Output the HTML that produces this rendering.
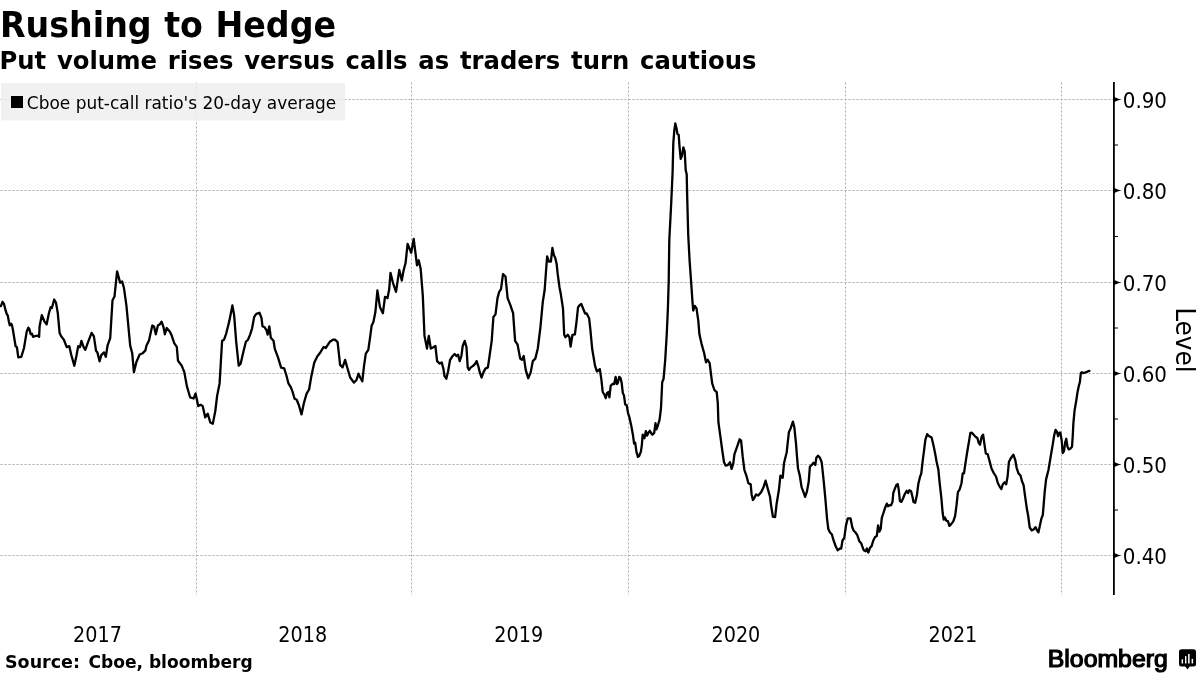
<!DOCTYPE html>
<html><head><meta charset="utf-8"><style>
html,body{margin:0;padding:0;background:#fff;width:1200px;height:675px;overflow:hidden}
svg{display:block;will-change:transform}
.t{font-family:"DejaVu Sans",sans-serif;font-weight:bold;fill:#000}
.c{font-family:"DejaVu Sans Condensed","DejaVu Sans",sans-serif;fill:#000}
.b{font-family:"Liberation Sans",sans-serif;font-weight:bold;fill:#000}
</style></head><body>
<svg width="1200" height="675" viewBox="0 0 1200 675">
<g stroke="#aaa" stroke-width="1" stroke-dasharray="2,2" fill="none"><line x1="0.5" y1="99.5" x2="1113" y2="99.5"/><line x1="0.5" y1="190.5" x2="1113" y2="190.5"/><line x1="0.5" y1="282.5" x2="1113" y2="282.5"/><line x1="0.5" y1="373.5" x2="1113" y2="373.5"/><line x1="0.5" y1="464.5" x2="1113" y2="464.5"/><line x1="0.5" y1="555.5" x2="1113" y2="555.5"/><line x1="196.5" y1="82.5" x2="196.5" y2="595"/><line x1="411.5" y1="82.5" x2="411.5" y2="595"/><line x1="628.5" y1="82.5" x2="628.5" y2="595"/><line x1="845.5" y1="82.5" x2="845.5" y2="595"/><line x1="1061.5" y1="82.5" x2="1061.5" y2="595"/></g>
<rect x="1" y="83" width="344" height="37.5" rx="1" fill="#eeeeee" fill-opacity="0.85"/>
<rect x="11" y="96" width="12" height="12" fill="#000"/>
<text class="c" x="26.8" y="108.8" font-size="18.4" textLength="309.5" lengthAdjust="spacingAndGlyphs">Cboe put-call ratio's 20-day average</text>
<polyline points="0.0,306.2 0.9,306.2 2.5,301.8 4.0,304.0 5.3,309.3 6.7,313.8 7.8,315.6 8.9,321.8 9.8,325.3 11.1,323.6 12.0,325.3 12.9,329.8 14.2,337.8 15.6,346.2 16.9,347.1 18.3,357.4 21.3,356.9 24.0,348.0 26.7,331.6 28.3,327.6 29.3,328.9 30.7,334.2 32.0,333.8 33.1,336.9 34.2,336.4 35.6,336.0 37.3,335.6 39.1,336.9 39.6,326.2 41.8,315.1 44.4,321.3 46.6,324.4 48.9,313.3 50.7,307.1 51.9,308.0 54.2,299.5 56.0,302.7 57.8,313.3 59.6,332.9 61.3,336.4 64.0,340.0 66.7,347.1 69.3,346.2 71.1,354.2 74.3,365.8 76.4,356.0 78.2,346.2 80.0,347.1 81.4,340.9 83.6,347.1 85.3,349.8 87.5,343.6 91.6,332.9 93.9,336.4 96.0,350.7 97.4,352.4 99.6,361.3 101.3,355.1 104.0,352.4 105.8,356.9 107.6,345.3 110.2,338.2 112.5,300.3 114.5,296.5 117.1,271.3 118.8,277.6 120.1,282.7 122.1,281.4 123.9,287.7 126.4,305.3 130.2,345.6 132.2,353.2 133.9,372.1 136.4,362.0 139.7,354.5 142.7,353.2 145.3,350.7 146.5,345.6 149.0,340.6 152.3,325.5 154.1,326.8 155.8,334.3 157.9,325.5 159.9,324.2 161.6,321.7 163.4,326.8 164.9,334.3 166.7,328.0 169.9,331.8 171.7,335.6 174.2,343.1 176.8,346.9 178.0,360.8 181.8,365.8 184.3,372.1 186.8,385.9 190.1,397.3 193.6,398.5 195.6,393.5 198.2,406.1 200.7,404.8 202.7,406.1 205.2,417.4 207.7,413.7 210.3,422.5 212.8,423.7 215.3,411.1 217.1,396.0 219.6,383.4 222.1,340.8 224.1,339.7 226.2,333.5 229.3,321.1 232.4,305.5 234.1,314.9 236.2,341.8 238.7,365.6 240.7,363.6 243.8,350.1 245.9,341.8 248.0,339.7 250.1,334.6 252.1,328.3 254.2,316.9 256.3,313.8 259.4,312.8 261.5,318.0 262.5,326.3 264.6,327.3 266.6,330.4 267.7,334.6 269.3,326.3 270.8,337.7 273.5,340.8 274.9,349.1 278.0,357.4 281.1,367.7 284.2,368.3 286.3,375.0 288.4,383.3 290.9,387.4 292.5,391.6 294.6,398.8 296.7,399.8 298.8,405.0 301.5,414.4 303.9,403.0 306.6,393.6 309.1,389.5 311.2,377.0 314.3,362.5 317.4,356.3 320.5,352.2 323.6,347.0 325.7,348.0 327.8,344.9 329.8,341.8 333.0,339.7 335.0,339.7 337.6,342.2 340.1,364.9 342.6,367.4 345.1,359.9 347.6,368.7 350.2,377.5 353.9,382.6 356.5,380.0 358.5,373.7 360.2,377.5 362.3,381.3 364.0,366.2 365.8,353.6 368.3,349.8 370.3,335.9 371.6,325.8 373.4,322.0 375.4,312.0 377.4,290.5 379.9,306.9 382.9,313.2 385.0,296.8 387.5,298.1 389.2,289.3 390.5,272.9 393.0,283.0 396.0,291.8 399.3,269.9 401.8,280.5 403.6,270.4 405.6,262.8 407.6,243.9 411.2,252.7 413.7,238.9 417.0,265.3 418.7,260.3 420.7,269.1 422.8,295.6 424.5,335.9 427.0,348.5 428.8,335.9 430.8,348.5 433.4,347.3 435.4,346.0 437.1,361.1 439.7,363.6 441.7,362.4 443.4,368.7 444.5,376.2 446.3,378.7 448.1,371.2 450.1,359.8 452.6,356.0 454.6,354.0 456.4,356.0 458.1,354.8 459.7,361.1 461.4,356.0 462.7,346.0 464.7,340.9 466.5,347.2 467.7,367.4 469.0,369.9 470.8,367.4 472.8,366.1 475.3,363.6 476.6,361.1 478.3,366.1 479.8,372.4 481.6,377.5 483.4,372.4 485.4,368.6 487.9,367.4 489.9,353.5 491.7,340.9 493.4,317.0 495.5,314.4 497.5,298.1 499.2,291.8 501.0,289.2 503.0,274.1 505.5,276.6 507.6,298.1 510.1,304.4 513.1,313.2 515.1,340.9 517.6,344.7 520.2,358.6 521.9,359.8 523.7,356.0 525.7,369.9 528.2,378.2 530.7,372.4 532.8,361.1 535.3,358.6 537.8,348.5 540.3,328.3 542.8,301.8 544.6,290.5 547.1,256.5 548.9,261.5 550.9,261.5 552.4,248.0 553.9,255.3 555.2,257.8 556.6,263.7 557.6,273.2 559.5,287.4 560.7,293.3 563.0,308.7 564.2,334.8 565.4,337.2 567.8,334.8 569.4,337.2 570.6,346.6 572.5,334.8 574.9,334.3 576.5,321.8 578.0,307.5 579.6,305.2 581.3,304.0 583.2,308.7 585.1,313.5 586.7,313.5 589.1,318.2 590.3,328.9 592.2,349.0 595.0,365.6 596.9,371.5 599.8,369.1 601.4,379.6 602.7,392.0 604.4,394.7 605.7,398.2 607.1,392.9 608.5,392.0 609.4,397.3 610.7,385.8 612.4,384.0 614.2,384.0 615.6,376.9 616.9,384.0 617.8,383.1 619.2,376.9 620.4,377.8 621.7,383.1 622.8,392.9 624.0,395.6 625.2,404.4 626.7,405.3 628.1,413.3 629.3,416.9 631.1,424.9 632.9,434.7 634.1,443.6 635.2,442.7 636.4,451.6 637.9,456.9 639.1,456.0 640.9,451.6 641.8,445.3 642.7,434.7 644.4,438.2 645.9,431.1 647.1,435.6 648.4,432.9 649.8,430.8 651.2,433.2 652.4,434.7 654.2,432.9 655.5,423.1 656.5,429.3 657.8,425.8 659.6,419.6 661.0,408.0 662.2,382.2 663.6,378.7 665.2,360.2 666.8,333.3 667.9,308.4 668.7,281.5 669.3,240.0 671.2,203.4 672.6,172.2 673.3,143.2 674.3,130.7 675.3,123.5 676.6,128.7 677.4,133.9 678.7,134.9 679.5,146.3 680.7,158.8 682.0,155.6 683.4,147.3 684.7,151.5 685.7,170.2 686.7,174.3 687.2,197.1 688.2,234.5 689.6,260.7 691.1,281.5 692.5,302.2 693.2,310.5 694.8,305.9 696.5,308.4 698.3,320.8 699.4,334.3 701.5,343.6 704.1,353.0 706.0,362.3 707.7,359.8 709.7,363.3 710.8,372.6 712.2,383.3 714.4,390.0 716.7,392.2 717.8,403.3 718.4,422.2 720.4,436.7 722.2,450.0 724.0,462.2 725.6,465.6 727.8,465.1 730.0,462.2 731.6,468.9 733.3,463.3 734.4,454.4 736.7,447.8 739.6,439.3 741.1,440.7 742.7,456.7 744.4,470.0 746.7,476.7 748.4,483.3 750.7,484.4 751.6,494.4 752.9,500.0 754.4,497.8 756.0,494.4 758.2,495.6 761.1,492.2 763.3,487.8 765.6,480.7 767.8,488.9 770.0,496.7 771.1,505.6 772.9,516.7 775.1,517.1 776.7,503.3 778.9,490.0 780.4,475.6 782.7,477.8 784.0,463.3 786.7,452.2 788.9,432.2 790.7,428.2 792.9,421.6 794.4,427.8 796.0,443.3 796.8,454.2 798.0,468.5 799.8,475.6 801.6,487.2 803.3,491.6 805.1,496.9 806.9,491.6 808.7,481.8 809.9,466.7 811.7,464.9 813.5,462.8 815.3,464.9 816.3,457.8 818.1,455.7 819.9,457.8 821.7,462.2 823.5,479.1 825.2,496.9 827.0,518.3 828.3,529.0 830.0,532.5 831.8,534.3 833.6,540.5 835.9,546.8 837.7,550.3 839.8,548.5 841.2,548.5 842.5,540.5 844.3,537.9 846.0,525.4 847.8,518.3 850.5,518.3 852.3,527.2 853.7,530.7 855.5,532.5 857.3,535.2 859.4,541.4 861.2,543.2 862.1,545.9 863.8,550.3 865.6,551.2 866.9,548.5 868.3,552.5 870.1,547.7 871.5,546.4 873.3,540.5 875.1,537.0 876.8,536.1 878.1,525.4 879.3,531.6 880.7,529.0 881.8,517.9 883.6,512.5 885.3,507.2 886.8,503.6 888.0,506.3 889.8,505.1 891.0,505.4 892.5,501.9 893.3,493.0 894.6,489.4 896.4,484.9 897.8,484.1 898.7,489.4 899.9,501.0 901.4,501.9 903.1,498.3 904.9,493.8 906.7,490.8 908.1,493.0 909.4,490.3 911.1,491.2 912.4,496.5 913.5,501.9 915.2,502.7 917.0,494.7 918.3,484.1 920.0,476.9 921.3,473.4 922.7,460.9 924.1,450.2 925.4,439.6 927.2,434.2 928.9,436.0 931.6,437.4 933.4,444.9 935.2,453.8 936.6,461.8 938.4,469.8 939.6,482.3 941.4,498.3 942.6,512.5 943.7,519.6 944.9,517.5 946.2,520.5 948.0,521.4 949.4,525.9 951.2,524.1 953.3,521.4 955.1,516.1 956.5,505.4 957.9,492.1 959.7,489.4 961.5,483.2 962.7,473.4 964.0,473.4 965.4,463.6 967.2,452.0 969.0,441.4 970.4,432.8 971.9,432.7 973.9,435.0 975.8,437.0 977.3,437.9 978.7,442.8 980.0,444.7 981.6,437.0 983.1,434.7 984.5,444.7 985.8,453.4 987.7,454.3 989.3,460.1 991.6,468.8 993.5,472.6 996.0,476.5 997.9,483.2 999.9,487.1 1001.4,489.0 1002.8,484.2 1004.7,482.3 1006.2,484.2 1007.6,476.5 1008.9,462.0 1010.8,458.2 1013.4,454.7 1015.3,460.1 1016.6,467.8 1018.6,473.6 1020.5,475.5 1022.0,481.3 1023.6,485.1 1024.9,494.8 1026.8,508.3 1028.2,516.0 1029.7,527.5 1031.7,530.4 1033.6,529.5 1035.5,527.1 1037.1,530.4 1038.4,532.4 1039.7,526.6 1041.3,518.9 1042.8,515.0 1044.8,490.9 1046.1,479.4 1048.5,469.8 1050.7,456.5 1052.8,444.1 1054.2,435.2 1055.6,429.9 1056.9,431.7 1058.1,436.1 1059.2,432.6 1060.4,432.6 1061.7,440.5 1062.7,453.0 1064.0,451.2 1065.2,442.3 1066.3,438.8 1067.5,446.8 1068.8,449.4 1070.5,448.5 1072.0,446.8 1072.8,435.2 1073.4,422.8 1074.6,410.4 1076.4,399.7 1077.6,391.7 1078.7,386.4 1079.9,382.0 1080.8,373.1 1081.7,372.2 1083.0,373.1 1084.7,372.7 1086.5,372.2 1087.9,371.3 1089.4,370.9" fill="none" stroke="#000" stroke-width="2.3" stroke-linejoin="round" stroke-linecap="round"/>
<rect x="1113" y="82" width="1.8" height="513" fill="#000"/>
<g fill="#000"><path d="M1114 96.5 Q1116.3 98.6 1121.8 99.5 Q1116.3 100.4 1114 102.5 Z"/><path d="M1114 187.5 Q1116.3 189.6 1121.8 190.5 Q1116.3 191.4 1114 193.5 Z"/><path d="M1114 279.5 Q1116.3 281.6 1121.8 282.5 Q1116.3 283.4 1114 285.5 Z"/><path d="M1114 370.5 Q1116.3 372.6 1121.8 373.5 Q1116.3 374.4 1114 376.5 Z"/><path d="M1114 461.5 Q1116.3 463.6 1121.8 464.5 Q1116.3 465.4 1114 467.5 Z"/><path d="M1114 552.5 Q1116.3 554.6 1121.8 555.5 Q1116.3 556.4 1114 558.5 Z"/><rect x="1114" y="509.5" width="4" height="1"/><rect x="1114" y="418.5" width="4" height="1"/><rect x="1114" y="327.5" width="4" height="1"/><rect x="1114" y="236.0" width="4" height="1"/><rect x="1114" y="144.5" width="4" height="1"/></g>
<g class="c" font-size="21.5"><text x="1122.8" y="107.5" textLength="44.2" lengthAdjust="spacingAndGlyphs">0.90</text><text x="1122.8" y="198.5" textLength="44.2" lengthAdjust="spacingAndGlyphs">0.80</text><text x="1122.8" y="290.5" textLength="44.2" lengthAdjust="spacingAndGlyphs">0.70</text><text x="1122.8" y="381.5" textLength="44.2" lengthAdjust="spacingAndGlyphs">0.60</text><text x="1122.8" y="472.5" textLength="44.2" lengthAdjust="spacingAndGlyphs">0.50</text><text x="1122.8" y="563.5" textLength="44.2" lengthAdjust="spacingAndGlyphs">0.40</text></g>
<text class="c" font-size="26" transform="translate(1176,307.2) rotate(90)" textLength="65.5" lengthAdjust="spacingAndGlyphs">Level</text>
<g class="c" font-size="22"><text x="73.10" y="642.3" textLength="48.8" lengthAdjust="spacingAndGlyphs">2017</text><text x="278.35" y="642.3" textLength="48.8" lengthAdjust="spacingAndGlyphs">2018</text><text x="494.35" y="642.3" textLength="48.8" lengthAdjust="spacingAndGlyphs">2019</text><text x="711.50" y="642.3" textLength="48.8" lengthAdjust="spacingAndGlyphs">2020</text><text x="928.50" y="642.3" textLength="48.8" lengthAdjust="spacingAndGlyphs">2021</text></g>
<text class="t" x="0" y="36.7" font-size="34.8" textLength="336" lengthAdjust="spacingAndGlyphs" word-spacing="1">Rushing to Hedge</text>
<text class="t" x="-0.5" y="68.8" font-size="25.6" textLength="757" lengthAdjust="spacingAndGlyphs" word-spacing="2.5">Put volume rises versus calls as traders turn cautious</text>
<text class="t" x="5" y="667.8" font-size="17.8" textLength="75" lengthAdjust="spacingAndGlyphs">Source:</text><text class="t" x="88.4" y="667.8" font-size="17.8" textLength="164.3" lengthAdjust="spacingAndGlyphs">Cboe, bloomberg</text>
<text style="font-family:'Liberation Sans',sans-serif;font-weight:normal" fill="#000" x="1047.8" y="667.2" font-size="23.5" stroke="#000" stroke-width="1.2" textLength="120"  lengthAdjust="spacingAndGlyphs">Bloomberg</text>
<g transform="translate(1179,649.3)">
<rect x="0" y="0" width="17" height="17.2" rx="2.5" fill="#000"/>
<path d="M6 16.8 L8.5 20.3 L11 16.8 Z" fill="#000"/>
<rect x="2.6" y="10" width="1.5" height="4.2" fill="#fff"/>
<rect x="6" y="6.8" width="1.4" height="7.4" fill="#fff"/>
<rect x="9.1" y="4.6" width="1.5" height="9.6" fill="#fff"/>
<rect x="12.6" y="9.6" width="1.5" height="4.6" fill="#fff"/>
</g>
</svg>
</body></html>
